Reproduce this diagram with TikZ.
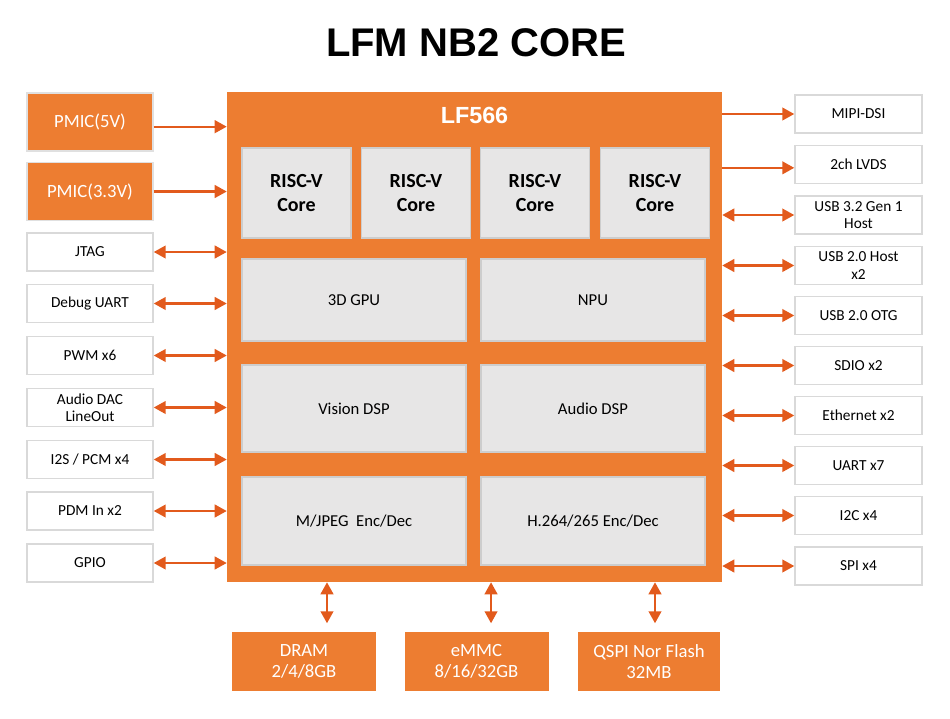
\documentclass[tikz,border=0pt]{standalone}
\usepackage{fontspec}
\setmainfont{Carlito}
\newfontfamily\headfont{Liberation Sans}
\usepackage{xcolor}
\usetikzlibrary{positioning, calc, arrows.meta}

\definecolor{socorange}{HTML}{ED7D31}
\definecolor{linkorange}{HTML}{E25A1C}
\definecolor{blockgray}{HTML}{E7E6E6}
\definecolor{blockedge}{HTML}{CDCDCD}
\definecolor{portedge}{HTML}{D9D9D9}

\begin{document}
\begin{tikzpicture}[
    x=0.75pt, y=-0.75pt,
    font=\fontsize{11.5}{13}\selectfont,
    port/.style={draw=portedge, line width=1.1pt, fill=white, align=center,
                 minimum width=94.5pt, minimum height=28.5pt, inner sep=1pt},
    rport/.style={port, minimum width=95.25pt},
    power/.style={port, draw=black!12, fill=socorange, text=white,
                  font=\fontsize{14}{16}\selectfont, minimum height=43.5pt},
    memory/.style={power, draw=none, minimum width=108pt, minimum height=44.25pt},
    block/.style={draw=blockedge, line width=0.8pt, fill=blockgray, align=center,
                  minimum width=168pt, font=\fontsize{12.5}{14}\selectfont},
    core/.style={block, minimum width=81.75pt, minimum height=67.5pt,
                 font=\fontsize{15}{18}\selectfont\bfseries},
    link/.style={-{Triangle[length=9pt, width=9.5pt]}, line width=1.6pt, linkorange},
    blink/.style={link, {Triangle[length=9pt, width=9.5pt]}-{Triangle[length=9pt, width=9.5pt]}},
  ]
  \useasboundingbox (0,0) rectangle (950,718);

  % ---------------- Title ----------------
  \node[font=\headfont\bfseries\fontsize{30}{33}\selectfont] (title) at (476,43) {LFM NB2 CORE};

  % ---------------- SoC ----------------
  \node[fill=socorange, minimum width=371.25pt, minimum height=367.5pt] (lf) at (474.5,337) {};
  \node[font=\headfont\bfseries\fontsize{17.5}{20}\selectfont, text=white] (lfname) at (474.5,115) {LF566};

  \node[core] (core1) at (296.5,193) {RISC-V\\Core};
  \node[core] (core2) at (416,193)   {RISC-V\\Core};
  \node[core] (core3) at (535,193)   {RISC-V\\Core};
  \node[core] (core4) at (655,193)   {RISC-V\\Core};

  \node[block, minimum height=61.5pt] (gpu)    at (354,300)   {3D GPU};
  \node[block, minimum height=61.5pt] (npu)    at (593,300)   {NPU};
  \node[block, minimum height=65.25pt] (vdsp)  at (354,408.5) {Vision DSP};
  \node[block, minimum height=65.25pt] (adsp)  at (593,408.5) {Audio DSP};
  \node[block, minimum height=66pt] (jpeg)     at (354,521)   {M/JPEG\ \ Enc/Dec};
  \node[block, minimum height=66pt] (h264)     at (593,521)   {H.264/265 Enc/Dec};

  % ---------------- Left side ----------------
  \node[power] (pmic5)  at (90,122)   {PMIC(5V)};
  \node[power] (pmic33) at (90,191.5) {PMIC(3.3V)};
  \node[port]  (jtag)   at (90,252)   {JTAG};
  \node[port]  (debug)  at (90,303.5) {Debug UART};
  \node[port]  (pwm)    at (90,355.5) {PWM x6};
  \node[port]  (dac)    at (90,407.5) {Audio DAC\\LineOut};
  \node[port]  (i2s)    at (90,459.5) {I2S / PCM x4};
  \node[port]  (pdm)    at (90,511)   {PDM In x2};
  \node[port]  (gpio)   at (90,563)   {GPIO};

  % ---------------- Right side ----------------
  \node[rport] (mipi)  at (858.5,114)   {MIPI-DSI};
  \node[rport] (lvds)  at (858.5,164.5) {2ch LVDS};
  \node[rport] (usb3)  at (858.5,215)   {USB 3.2 Gen 1\\Host};
  \node[rport] (usb2)  at (858.5,265.5) {USB 2.0 Host\\x2};
  \node[rport] (otg)   at (858.5,315.5) {USB 2.0 OTG};
  \node[rport] (sdio)  at (858.5,365.5) {SDIO x2};
  \node[rport] (eth)   at (858.5,415.5) {Ethernet x2};
  \node[rport] (uart)  at (858.5,465.5) {UART x7};
  \node[rport] (i2c)   at (858.5,515.5) {I2C x4};
  \node[rport] (spi)   at (858.5,566)   {SPI x4};

  % ---------------- Memories ----------------
  \node[memory] (dram) at (304,661.5)   {DRAM\\2/4/8GB};
  \node[memory] (emmc) at (476.5,661.5) {eMMC\\8/16/32GB};
  \node[memory, minimum width=106.5pt] (qspi) at (649,661.5) {QSPI Nor Flash\\32MB};

  % ---------------- Connections ----------------
  \draw[link] ([yshift=-3.5pt]pmic5.east) -- ([yshift=-3.5pt]pmic5.east -| lf.west);
  \draw[link] (pmic33.east) -- (pmic33.east -| lf.west);
  \foreach \p in {jtag, debug, pwm, dac, i2s, pdm, gpio}
    \draw[blink] (\p.east) -- (\p.east -| lf.west);

  \draw[link] (lf.east |- mipi.west) -- (mipi.west);
  \draw[link] ([yshift=-2.5pt]lf.east |- lvds.west) -- ([yshift=-2.5pt]lvds.west);
  \foreach \p in {usb3, usb2, otg, sdio, eth, uart, i2c, spi}
    \draw[blink] (lf.east |- \p.west) -- (\p.west);

  \draw[blink, shorten <=6pt] ([xshift=17.25pt]dram.north) -- ([xshift=17.25pt]dram.north |- lf.south);
  \draw[blink, shorten <=6pt] ([xshift=10.9pt]emmc.north) -- ([xshift=10.9pt]emmc.north |- lf.south);
  \draw[blink, shorten <=6pt] ([xshift=4.5pt]qspi.north) -- ([xshift=4.5pt]qspi.north |- lf.south);
\end{tikzpicture}
\end{document}
